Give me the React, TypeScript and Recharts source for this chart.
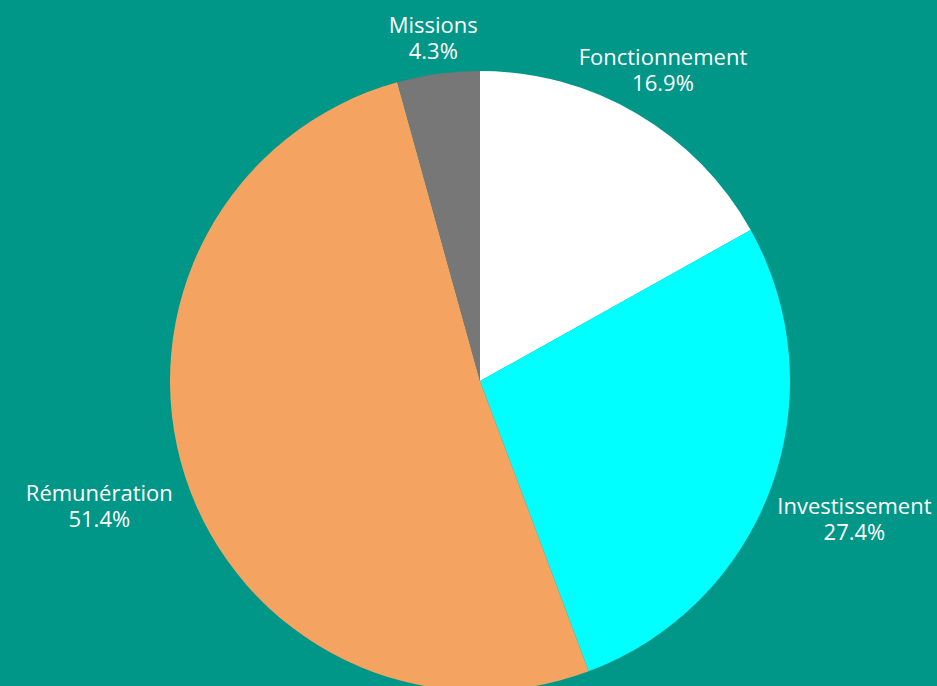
import { PieChart, Pie, Cell } from "recharts";

const CATEGORIES = ["Fonctionnement", "Investissement", "Rémunération", "Missions"];
const SHARES = [16.9, 27.4, 51.4, 4.3];
const COLORS = ["#ffffff", "#00ffff", "#f4a460", "#777777"];

const data = CATEGORIES.map((name, i) => ({ name, value: SHARES[i] }));
const total = SHARES.reduce((a, b) => a + b, 0);

const RAD = Math.PI / 180;

// outside labels, pushed further out on the left/right sides
function renderLabel(props: any) {
  const { cx, cy, outerRadius, midAngle, name, value } = props;
  const s = Math.sin(-midAngle * RAD);
  const c = Math.cos(-midAngle * RAD);
  const r = outerRadius + 36 + 60 * c * c;
  const x = cx + r * c;
  const y = cy + r * s;
  return (
    <text
      x={x}
      y={y}
      textAnchor="middle"
      fill="#ffffff"
      fontFamily="'Open Sans', sans-serif"
      fontSize={22}
    >
      <tspan x={x} y={y - 13} dominantBaseline="central">
        {name}
      </tspan>
      <tspan x={x} y={y + 13} dominantBaseline="central">
        {((value / total) * 100).toFixed(1)}%
      </tspan>
    </text>
  );
}

export default function App() {
  return (
    <div
      style={{
        position: "fixed",
        left: 0,
        top: 0,
        width: 937,
        height: 686,
        background: "#009688",
        overflow: "hidden",
      }}
    >
      <PieChart width={937} height={686} margin={{ top: 0, right: 0, bottom: 0, left: 0 }}>
        <Pie
          data={data}
          dataKey="value"
          nameKey="name"
          cx={480}
          cy={381}
          outerRadius={310}
          startAngle={90}
          endAngle={-270}
          stroke="none"
          labelLine={false}
          label={renderLabel}
          isAnimationActive={false}
        >
          {data.map((d, i) => (
            <Cell key={d.name} fill={COLORS[i]} />
          ))}
        </Pie>
      </PieChart>
    </div>
  );
}
